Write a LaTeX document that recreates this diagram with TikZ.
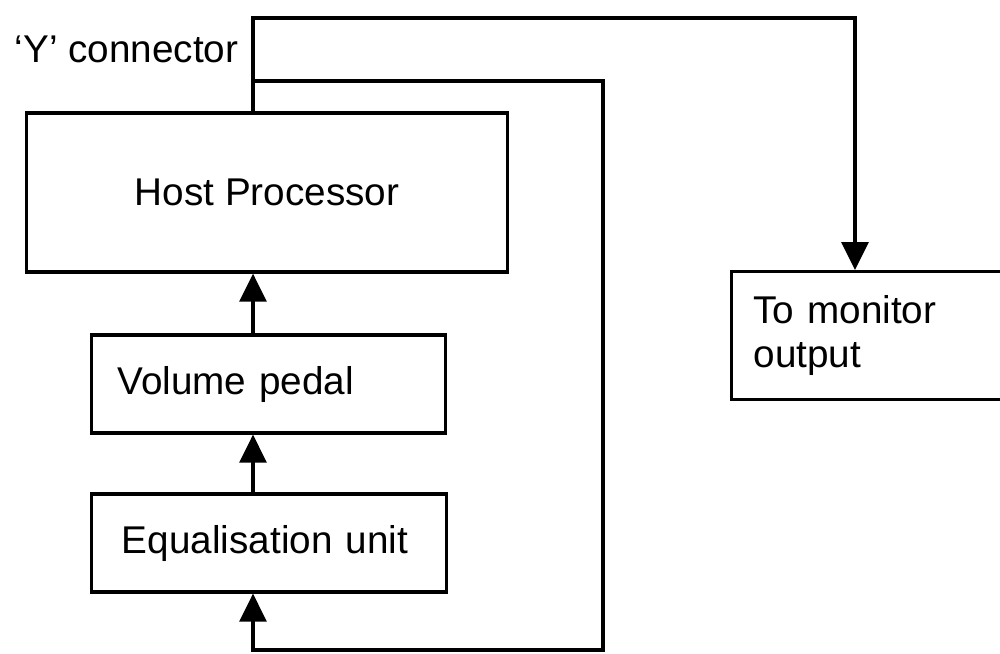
\documentclass[tikz,border=0pt]{standalone}
\usepackage{fontspec}
\setmainfont{Liberation Sans}
\usepackage{xcolor}
\usepackage{tikz}
\usetikzlibrary{arrows.meta,calc,positioning}
\definecolor{ink}{RGB}{0,0,0}
\tikzset{
  flow/.style={-{Triangle[length=2.8mm,width=2.7mm]},line width=0.9pt,draw=ink},
  wire/.style={line width=0.9pt,draw=ink},
  unit/.style={draw=ink,line width=0.9pt,fill=white,inner sep=0pt,font=\fontsize{11}{12.5}\selectfont},
  tag/.style={font=\fontsize{11}{12.5}\selectfont,inner sep=0pt}
}
\begin{document}
\begin{tikzpicture}[x=0.01cm,y=-0.01cm]
  \useasboundingbox (0,0) rectangle (1000,653);
  \node[unit,minimum width=4.8cm,minimum height=1.59cm] (host) at (267,192.5) {Host Processor};
  \node[unit,minimum width=3.54cm,minimum height=0.98cm,text width=3.02cm,align=left] (vol) at (268.5,384) {Volume pedal};
  \node[unit,minimum width=3.54cm,minimum height=0.98cm,text width=2.94cm,align=left] (eq) at (269,543) {\raisebox{0.5mm}{Equalisation unit}};
  \node[unit,anchor=north west,minimum width=3.0cm,minimum height=1.28cm,text width=2.56cm,align=left] (mon) at (730,270) {To monitor\\output};
  \node[tag,anchor=base west] (ylab) at (14,62) {‘Y’ connector};
  \coordinate (bus) at (253,0);
  \coordinate (ytop) at (855,18);
  \coordinate (ysplit) at (253,81);
  \coordinate (loopbot) at (603,650);
  \draw[flow] (eq.north -| bus) -- (vol.south -| bus);
  \draw[flow] (vol.north -| bus) -- (host.south -| bus);
  \draw[flow] (host.north -| bus) |- (ytop) -- (ytop |- mon.north);
  \draw[flow] (ysplit) -| (loopbot) -| (eq.south -| bus);
\end{tikzpicture}
\end{document}
